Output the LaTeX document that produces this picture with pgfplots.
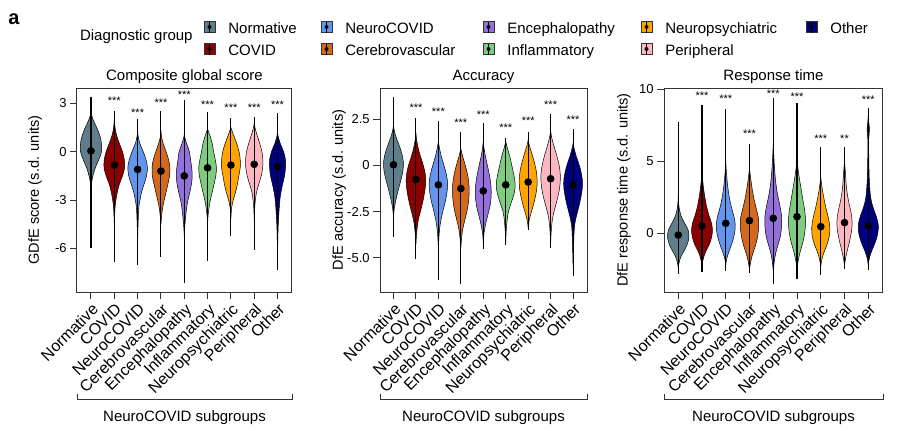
\documentclass[border=0pt]{standalone}
\usepackage{pgfplots}
\pgfplotsset{compat=1.18}
\usepackage{pgfplotstable}
\usepackage{fontspec}
\setmainfont{Liberation Sans}

\definecolor{cNorm}{HTML}{607D8B}
\definecolor{cCOVID}{HTML}{8B0000}
\definecolor{cNeuro}{HTML}{6495ED}
\definecolor{cCereb}{HTML}{D2691E}
\definecolor{cEnceph}{HTML}{9370DB}
\definecolor{cInflam}{HTML}{7FCB7F}
\definecolor{cNeuropsy}{HTML}{FFA500}
\definecolor{cPeri}{HTML}{FFB6C1}
\definecolor{cOther}{HTML}{00007F}
\definecolor{frame}{HTML}{333333}

% violin: #1 centre, #2 colour, #3 profile y/halfwidth (ascending)
\newcommand\violin[3]{%
  \gdef\vR{}\gdef\vL{}%
  \foreach \yy/\ww in {#3}{%
    \pgfmathsetmacro\xr{#1+\ww}%
    \pgfmathsetmacro\xl{#1-\ww}%
    \xdef\vR{\vR(\xr,\yy)}%
    \xdef\vL{(\xl,\yy)\vL}%
  }%
  \edef\vtmp{\noexpand\addplot[fill=#2, draw=black, line width=0.25pt, smooth, tension=0.6] coordinates {\vR\vL};}%
  \vtmp
}

\pgfplotstableread{
x mean lo hi
0 0.05 -5.96 3.37
1 -0.83 -6.87 2.55
2 -1.10 -7.03 2.03
3 -1.20 -6.50 2.55
4 -1.50 -8.17 3.20
5 -1.00 -6.80 2.44
6 -0.83 -5.20 2.10
7 -0.78 -6.10 2.17
8 -0.93 -7.35 2.38
}\tabA
\pgfplotstableread{
x mean lo hi
0 0.04 -3.88 3.70
1 -0.76 -5.07 2.55
2 -1.05 -6.23 2.41
3 -1.25 -6.41 1.83
4 -1.38 -4.55 2.28
5 -1.05 -4.33 1.47
6 -0.90 -3.48 1.83
7 -0.72 -4.46 2.77
8 -1.05 -6.00 1.96
}\tabB
\pgfplotstableread{
x mean lo hi
0 -0.12 -2.84 7.74
1 0.50 -2.70 8.90
2 0.69 -2.60 8.60
3 0.88 -2.72 6.17
4 1.04 -3.50 9.40
5 1.15 -3.16 9.00
6 0.46 -2.89 6.00
7 0.74 -2.50 5.96
8 0.53 -2.54 8.66
}\tabC

\newcommand\fs[1]{\fontsize{#1}{#1}\selectfont}

\pgfplotsset{vio/.style={
  scale only axis, height=102pt, clip=false, anchor=south west,
  xmin=-0.6, xmax=8.62, xtick={0,...,8},
  xticklabels={Normative,COVID,NeuroCOVID,Cerebrovascular,Encephalopathy,Inflammatory,Neuropsychiatric,Peripheral,Other},
  xticklabel style={rotate=45, anchor=north east, inner sep=1pt, font=\fs{8}},
  yticklabel style={font=\fs{6.5}, inner sep=1.5pt},
  tick align=outside, xtick pos=left, ytick pos=left, major tick length=3.5pt,
  axis line style={frame, line width=0.5pt},
  every tick/.style={frame, line width=0.5pt},
  title style={at={(0.5,1)}, anchor=base, yshift=-2.35pt, font=\fs{7.5}},
  label style={font=\fs{7.3}},
},
dots/.style={only marks, mark=*, mark size=1.7pt, black,
  error bars/.cd, y dir=both, y explicit, error mark=none,
  error bar style={line width=0.55pt, black}},
}
\tikzset{stars/.style={font=\fs{5.5}, inner sep=0pt, anchor=base, yshift=-2.8pt}}

\newcommand\legitem[4]{%
  \filldraw[fill=#3, draw=black!80, line width=0.3pt] (#1,#2-2.75) rectangle ++(5.5,5.5);
  \draw[black, line width=0.45pt] (#1+2.75,#2-2.75) -- ++(0,5.5);
  \fill[black] (#1+2.75,#2) circle (1pt);
  \node[anchor=base west, inner sep=0pt, font=\fs{7.5}] at (#1+12,#2-3.2) {#4};
}

\begin{document}
\begin{tikzpicture}
\begin{scope}[x=1pt,y=1pt]
\path (0,0) rectangle (450.5,215);
\node[anchor=base west, inner sep=0pt, font=\fs{10}\bfseries] at (4,203) {a};
\node[anchor=base east, inner sep=0pt, font=\fs{7.5}] at (96.5,194.7) {Diagnostic group};
\legitem{102}{201.5}{cNorm}{Normative}
\legitem{102}{190.5}{cCOVID}{COVID}
\legitem{160.5}{201.5}{cNeuro}{NeuroCOVID}
\legitem{160.5}{190.5}{cCereb}{Cerebrovascular}
\legitem{241.5}{201.5}{cEnceph}{Encephalopathy}
\legitem{241.5}{190.5}{cInflam}{Inflammatory}
\legitem{320.5}{201.5}{cNeuropsy}{Neuropsychiatric}
\legitem{320.5}{190.5}{cPeri}{Peripheral}
\legitem{403}{201.5}{cOther}{Other}
% brackets
\foreach \a/\b in {38.5/146, 190/293.5, 332/441.5}{
  \draw[frame, line width=0.5pt] (\a,18) -- (\a,15.5) -- (\b,15.5) -- (\b,18);
  \node[anchor=base, inner sep=0pt, font=\fs{7.5}] at ({(\a+\b)/2},4.3) {NeuroCOVID subgroups};
}
\end{scope}

% ---------- Panel 1
\begin{axis}[vio, at={(38.5pt,69pt)}, width=107.5pt,
  ymin=-8.7, ymax=3.95, ytick={-6,-3,0,3}, yticklabels={-6,-3,0,3},
  title={Composite global score}, ylabel={GDfE score (s.d. units)},
  ylabel style={at={(axis description cs:-0.195,0.5)}, anchor=center}]
\violin{0}{cNorm}{-2.4/0,-1.8/0.04,-1.1/0.16,-0.5/0.33,0/0.45,0.7/0.43,1.35/0.29,1.76/0.16,2.1/0.06,2.5/0}
\violin{1}{cCOVID}{-4.5/0,-3.5/0.03,-3.0/0.07,-2.5/0.13,-2.0/0.22,-1.5/0.35,-1.0/0.44,-0.5/0.43,0/0.35,0.5/0.22,1.0/0.1,1.5/0.03,2.0/0}
\violin{2}{cNeuro}{-5.5/0,-4.5/0.02,-3.5/0.05,-3.0/0.1,-2.5/0.17,-2.0/0.28,-1.5/0.38,-1.0/0.42,-0.5/0.36,0/0.24,0.5/0.1,0.9/0.03,1.2/0}
\violin{3}{cCereb}{-4.5/0,-4.0/0.03,-3.5/0.07,-3.0/0.14,-2.5/0.22,-2.0/0.3,-1.5/0.37,-1.0/0.38,-0.5/0.33,0/0.22,0.5/0.1,0.9/0.03,1.3/0}
\violin{4}{cEnceph}{-5.2/0,-4.5/0.03,-3.5/0.1,-3.0/0.16,-2.5/0.24,-2.0/0.31,-1.5/0.34,-1.0/0.32,-0.5/0.27,0/0.22,0.5/0.1,0.9/0.02,1.1/0}
\violin{5}{cInflam}{-4.5/0,-4.0/0.02,-3.5/0.06,-3.0/0.12,-2.5/0.2,-2.0/0.28,-1.5/0.35,-1.0/0.38,-0.5/0.33,0/0.26,0.5/0.2,1.0/0.1,1.4/0}
\violin{6}{cNeuropsy}{-4.2/0,-3.5/0.03,-3.0/0.1,-2.5/0.2,-2.0/0.28,-1.5/0.34,-1.0/0.4,-0.5/0.4,0/0.35,0.5/0.25,1.0/0.12,1.5/0}
\violin{7}{cPeri}{-4.2/0,-3.5/0.02,-3.0/0.05,-2.5/0.1,-2.0/0.2,-1.5/0.3,-1.0/0.36,-0.5/0.37,0/0.33,0.5/0.24,1.0/0.13,1.5/0.03,1.8/0}
\violin{8}{cOther}{-6.5/0,-5/0.02,-4/0.05,-3/0.1,-2.5/0.15,-2.0/0.22,-1.5/0.3,-1.0/0.34,-0.5/0.34,0/0.26,0.5/0.12,1.0/0.02,1.3/0}
\addplot[dots] table[x=x, y=mean, y error plus expr=\thisrow{hi}-\thisrow{mean}, y error minus expr=\thisrow{mean}-\thisrow{lo}] {\tabA};
\node[stars] at (axis cs:1,3.27) {***};
\node[stars] at (axis cs:2,2.55) {***};
\node[stars] at (axis cs:3,3.17) {***};
\node[stars] at (axis cs:4,3.66) {***};
\node[stars] at (axis cs:5,3.0) {***};
\node[stars] at (axis cs:6,2.83) {***};
\node[stars] at (axis cs:7,2.83) {***};
\node[stars] at (axis cs:8,3.0) {***};
\end{axis}

% ---------- Panel 2
\begin{axis}[vio, at={(190pt,69pt)}, width=103.5pt,
  ymin=-6.86, ymax=4.2, ytick={-5,-2.5,0,2.5}, yticklabels={-5.0,-2.5,0,2.5},
  title={Accuracy}, ylabel={DfE accuracy (s.d. units)},
  ylabel style={at={(axis description cs:-0.198,0.5)}, anchor=center}]
\violin{0}{cNorm}{-2.8/0,-2.3/0.04,-1.8/0.12,-1.3/0.22,-0.8/0.33,-0.3/0.42,0.2/0.44,0.7/0.36,1.2/0.22,1.6/0.1,2.0/0.02,2.3/0}
\violin{1}{cCOVID}{-4.3/0,-3.7/0.03,-3.0/0.1,-2.5/0.2,-2.0/0.3,-1.5/0.38,-1.0/0.43,-0.5/0.42,0/0.33,0.5/0.2,1.0/0.09,1.5/0.02,1.8/0}
\violin{2}{cNeuro}{-4.5/0,-3.8/0.03,-3.2/0.08,-2.6/0.18,-2.0/0.3,-1.5/0.38,-1.0/0.41,-0.5/0.36,0/0.25,0.5/0.13,1.0/0.04,1.3/0}
\violin{3}{cCereb}{-4.5/0,-4.0/0.03,-3.5/0.08,-3.0/0.17,-2.5/0.27,-2.0/0.34,-1.5/0.37,-1.0/0.36,-0.5/0.3,0/0.2,0.5/0.08,0.9/0}
\violin{4}{cEnceph}{-4.2/0,-3.7/0.03,-3.2/0.1,-2.7/0.2,-2.2/0.3,-1.7/0.35,-1.2/0.35,-0.7/0.3,-0.2/0.22,0.3/0.13,0.8/0.05,1.3/0}
\violin{5}{cInflam}{-4.2/0,-3.6/0.02,-3.0/0.06,-2.5/0.12,-2.0/0.25,-1.5/0.38,-1.0/0.42,-0.5/0.36,0/0.27,0.5/0.18,0.9/0.08,1.3/0}
\violin{6}{cNeuropsy}{-3.4/0,-3.0/0.04,-2.6/0.12,-2.2/0.22,-1.8/0.3,-1.3/0.38,-0.8/0.4,-0.3/0.36,0.2/0.27,0.7/0.15,1.1/0.05,1.4/0}
\violin{7}{cPeri}{-4.3/0,-3.7/0.02,-3.0/0.07,-2.5/0.15,-2.0/0.26,-1.5/0.36,-1.0/0.42,-0.5/0.43,0/0.38,0.5/0.28,1.0/0.16,1.5/0.05,1.9/0}
\violin{8}{cOther}{-5.5/0,-4.5/0.02,-3.5/0.05,-3.0/0.1,-2.5/0.2,-2.0/0.3,-1.5/0.38,-1.0/0.42,-0.5/0.38,0/0.28,0.5/0.14,1.0/0.03,1.2/0}
\addplot[dots] table[x=x, y=mean, y error plus expr=\thisrow{hi}-\thisrow{mean}, y error minus expr=\thisrow{mean}-\thisrow{lo}] {\tabB};
\node[stars] at (axis cs:1,3.24) {***};
\node[stars] at (axis cs:2,3.0) {***};
\node[stars] at (axis cs:3,2.43) {***};
\node[stars] at (axis cs:4,2.83) {***};
\node[stars] at (axis cs:5,2.14) {***};
\node[stars] at (axis cs:6,2.55) {***};
\node[stars] at (axis cs:7,3.37) {***};
\node[stars] at (axis cs:8,2.6) {***};
\end{axis}

% ---------- Panel 3
\begin{axis}[vio, at={(332pt,69pt)}, width=109.5pt,
  ymin=-4.07, ymax=10.07, ytick={0,5,10}, yticklabels={0,5,10},
  title={Response time}, ylabel={DfE response time (s.d. units)},
  ylabel style={at={(axis description cs:-0.183,0.5)}, anchor=center}]
\violin{0}{cNorm}{-2.4/0,-2.0/0.04,-1.6/0.12,-1.2/0.25,-0.8/0.37,-0.3/0.45,0.2/0.42,0.6/0.3,1.0/0.17,1.5/0.07,2.0/0.02,2.6/0}
\violin{1}{cCOVID}{-2.3/0,-1.8/0.05,-1.3/0.15,-0.8/0.3,-0.3/0.4,0.2/0.44,0.7/0.4,1.2/0.3,1.8/0.2,2.5/0.12,3.2/0.06,4.0/0.01,4.3/0}
\violin{2}{cNeuro}{-2.2/0,-1.7/0.05,-1.2/0.15,-0.6/0.28,0/0.37,0.6/0.4,1.2/0.34,1.8/0.24,2.5/0.15,3.3/0.08,4.2/0.03,5.0/0}
\violin{3}{cCereb}{-2.5/0,-2.0/0.05,-1.5/0.12,-1.0/0.22,-0.4/0.32,0.3/0.38,1.0/0.38,1.6/0.3,2.3/0.2,3.0/0.12,3.8/0.05,4.5/0}
\violin{4}{cEnceph}{-2.6/0,-2.0/0.04,-1.4/0.1,-0.8/0.2,-0.2/0.3,0.5/0.35,1.2/0.35,1.9/0.28,2.7/0.18,3.6/0.1,4.6/0.05,5.5/0.02,6.2/0}
\violin{5}{cInflam}{-2.4/0,-1.9/0.05,-1.3/0.13,-0.6/0.25,0.1/0.33,0.8/0.36,1.5/0.33,2.2/0.26,3.0/0.18,3.8/0.1,4.5/0.04,5.1/0}
\violin{6}{cNeuropsy}{-2.3/0,-1.8/0.05,-1.3/0.14,-0.8/0.26,-0.2/0.36,0.4/0.38,1.0/0.33,1.6/0.24,2.2/0.16,2.9/0.08,3.6/0.02,3.9/0}
\violin{7}{cPeri}{-2.2/0,-1.7/0.05,-1.1/0.13,-0.5/0.22,0.2/0.3,0.8/0.32,1.4/0.28,2.0/0.2,2.7/0.12,3.4/0.07,4.2/0.04,5.0/0}
\violin{8}{cOther}{-2.2/0,-1.7/0.05,-1.2/0.15,-0.6/0.3,0/0.4,0.6/0.42,1.2/0.33,1.8/0.2,2.5/0.1,3.5/0.05,4.5/0.03,5.5/0.02,6.5/0.02,7.2/0.05,7.7/0.02,8.2/0}
\addplot[dots] table[x=x, y=mean, y error plus expr=\thisrow{hi}-\thisrow{mean}, y error minus expr=\thisrow{mean}-\thisrow{lo}] {\tabC};
\node[stars] at (axis cs:1,9.63) {***};
\node[stars] at (axis cs:2,9.47) {***};
\node[stars] at (axis cs:3,7.04) {***};
\node[stars] at (axis cs:4,9.8) {***};
\node[stars] at (axis cs:5,9.6) {***};
\node[stars] at (axis cs:6,6.7) {***};
\node[stars] at (axis cs:7,6.7) {**};
\node[stars] at (axis cs:8,9.4) {***};
\end{axis}
\end{tikzpicture}
\end{document}
